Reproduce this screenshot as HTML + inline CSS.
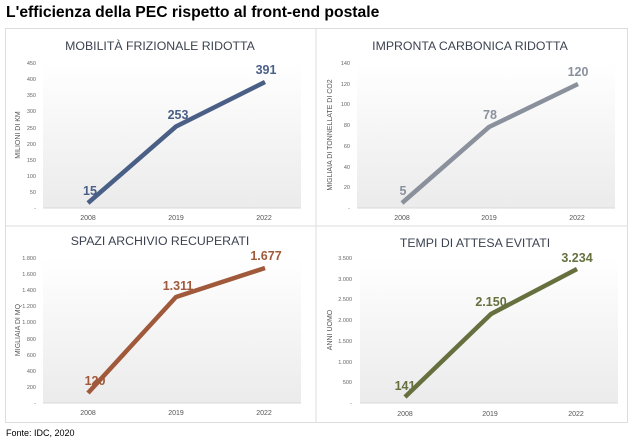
<!DOCTYPE html>
<html><head><meta charset="utf-8"><style>
body{margin:0;background:#fff;width:634px;height:444px;overflow:hidden}
svg{display:block;font-family:"Liberation Sans",sans-serif}
.t{font-size:12.3px;fill:#3c4350;text-anchor:middle}
.yt{font-size:5.5px;fill:#666;text-anchor:end}
.xt{font-size:7px;fill:#555;text-anchor:middle}
.at{font-size:7px;fill:#555;text-anchor:middle}
.dl{font-size:12.5px;font-weight:bold;text-anchor:middle}
</style></head><body>
<svg width="634" height="444" viewBox="0 0 634 444">
<defs><linearGradient id="g" x1="0" y1="0" x2="0" y2="1"><stop offset="0" stop-color="#fff"/><stop offset="1" stop-color="#ebebeb"/></linearGradient></defs>
<text x="6" y="17" font-size="15.7" font-weight="bold" fill="#000">L'efficienza della PEC rispetto al front-end postale</text>
<rect x="5.5" y="28.5" width="622" height="394" fill="none" stroke="#ddd"/>
<line x1="316" y1="28" x2="316" y2="422" stroke="#ddd"/>
<line x1="5" y1="226" x2="627" y2="226" stroke="#ddd"/>
<rect x="43" y="63" width="258" height="145" fill="url(#g)"/>
<rect x="357" y="63" width="258" height="145" fill="url(#g)"/>
<rect x="43" y="258" width="258" height="145" fill="url(#g)"/>
<rect x="360" y="258" width="258" height="145" fill="url(#g)"/>
<g stroke="#d8d8d8"><line x1="43" y1="208" x2="301" y2="208"/><line x1="357" y1="208" x2="615" y2="208"/><line x1="43" y1="403" x2="301" y2="403"/><line x1="360" y1="403" x2="618" y2="403"/></g>
<!-- Panel 1 -->
<text class="t" x="160" y="50">MOBILITÀ FRIZIONALE RIDOTTA</text>
<g class="yt"><text x="36" y="210">-</text><text x="36" y="194">50</text><text x="36" y="178">100</text><text x="36" y="162">150</text><text x="36" y="146">200</text><text x="36" y="130">250</text><text x="36" y="113">300</text><text x="36" y="97">350</text><text x="36" y="81">400</text><text x="36" y="65">450</text></g>
<text class="at" transform="translate(20,135) rotate(-90)">MILIONI DI KM</text>
<g class="xt"><text x="88" y="220">2008</text><text x="176" y="220">2019</text><text x="264" y="220">2022</text></g>
<polyline points="88,203 176,126.5 265,82" fill="none" stroke="#4a5f86" stroke-width="4.5" stroke-linejoin="round"/>
<g class="dl" fill="#4a5f86"><text x="90" y="195">15</text><text x="178" y="119">253</text><text x="266" y="74">391</text></g>
<!-- Panel 2 -->
<text class="t" x="470" y="50">IMPRONTA CARBONICA RIDOTTA</text>
<g class="yt"><text x="350" y="210">-</text><text x="350" y="189">20</text><text x="350" y="169">40</text><text x="350" y="148">60</text><text x="350" y="127">80</text><text x="350" y="106">100</text><text x="350" y="86">120</text><text x="350" y="65">140</text></g>
<text class="at" transform="translate(332,135) rotate(-90)">MIGLIAIA DI TONNELLATE DI CO2</text>
<g class="xt"><text x="402" y="220">2008</text><text x="489" y="220">2019</text><text x="577" y="220">2022</text></g>
<polyline points="402,203 489,127 578,84" fill="none" stroke="#8a919c" stroke-width="4.5" stroke-linejoin="round"/>
<g class="dl" fill="#8a919c"><text x="403" y="195">5</text><text x="490" y="119">78</text><text x="578" y="76">120</text></g>
<!-- Panel 3 -->
<text class="t" x="160" y="245">SPAZI ARCHIVIO RECUPERATI</text>
<g class="yt"><text x="36" y="405">-</text><text x="36" y="389">200</text><text x="36" y="373">400</text><text x="36" y="357">600</text><text x="36" y="341">800</text><text x="36" y="324">1.000</text><text x="36" y="308">1.200</text><text x="36" y="292">1.400</text><text x="36" y="276">1.600</text><text x="36" y="260">1.800</text></g>
<text class="at" transform="translate(20,330) rotate(-90)">MIGLIAIA DI MQ</text>
<g class="xt"><text x="88" y="415">2008</text><text x="176" y="415">2019</text><text x="264" y="415">2022</text></g>
<polyline points="88,393 176,297 265,268" fill="none" stroke="#a0593a" stroke-width="4.5" stroke-linejoin="round"/>
<g class="dl" fill="#a0593a"><text x="95" y="385">120</text><text x="178" y="290">1.311</text><text x="266" y="260">1.677</text></g>
<!-- Panel 4 -->
<text class="t" x="475" y="247">TEMPI DI ATTESA EVITATI</text>
<g class="yt"><text x="352" y="405">-</text><text x="352" y="384">500</text><text x="352" y="364">1.000</text><text x="352" y="343">1.500</text><text x="352" y="322">2.000</text><text x="352" y="301">2.500</text><text x="352" y="281">3.000</text><text x="352" y="260">3.500</text></g>
<text class="at" transform="translate(332,330) rotate(-90)">ANNI UOMO</text>
<g class="xt"><text x="405" y="416">2008</text><text x="490" y="416">2019</text><text x="576" y="416">2022</text></g>
<polyline points="405,397 491,314 577,269" fill="none" stroke="#66703f" stroke-width="4.5" stroke-linejoin="round"/>
<g class="dl" fill="#66703f"><text x="405" y="390">141</text><text x="491" y="306">2.150</text><text x="577" y="262">3.234</text></g>
<text x="6" y="436" font-size="9" fill="#000">Fonte: IDC, 2020</text>
</svg>
</body></html>
